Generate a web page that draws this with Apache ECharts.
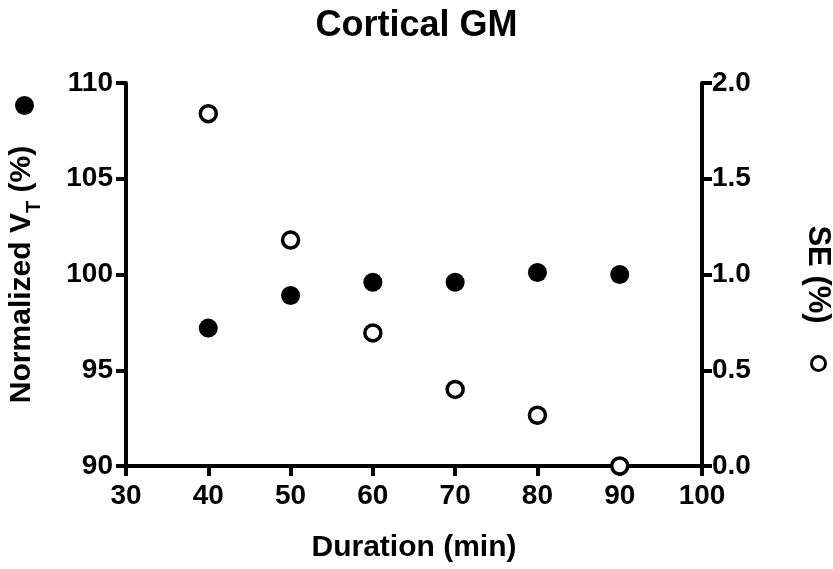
<!DOCTYPE html>
<html><head><meta charset="utf-8">
<script src="https://cdn.jsdelivr.net/npm/echarts@6/dist/echarts.min.js"></script>
<style>html,body{margin:0;padding:0;background:#fff}#c{width:833px;height:569px}</style>
</head><body><div id="c"></div>
<script>
const durations = [40, 50, 60, 70, 80, 90];
const normalizedVT = [97.2, 98.9, 99.6, 99.6, 100.1, 100.0];
const sePercent = [1.84, 1.18, 0.695, 0.40, 0.265, 0.0];
const xTicks = [30, 40, 50, 60, 70, 80, 90, 100];
const leftTicks = [90, 95, 100, 105, 110];
const rightTicks = [0.0, 0.5, 1.0, 1.5, 2.0];

const FF = '"Liberation Sans", Arial, Helvetica, sans-serif';
const chart = echarts.init(document.getElementById('c'), null, {renderer: 'canvas'});
const axisCommon = {
  axisLine: {show: true, lineStyle: {color: '#000', width: 4}},
  axisTick: {show: true, inside: false, length: 10, lineStyle: {color: '#000', width: 4}},
  splitLine: {show: false},
  axisLabel: {color: '#000', fontSize: 28, fontWeight: 'bold', fontFamily: FF, margin: 14}
};
chart.setOption({
  animation: false,
  backgroundColor: '#fff',
  title: {text: 'Cortical GM', left: 'center', top: 3,
    textStyle: {color: '#000', fontSize: 36, fontWeight: 'bold', fontFamily: FF}},
  grid: {left: 126, right: 131, top: 83, bottom: 103, containLabel: false, outerBoundsMode: 'none'},
  xAxis: Object.assign({}, axisCommon, {
    type: 'value', min: xTicks[0], max: xTicks[xTicks.length-1], interval: 10,
    name: 'Duration (min)', nameLocation: 'middle', nameGap: 67,
    nameTextStyle: {color: '#000', fontSize: 30, fontWeight: 'bold', fontFamily: FF},
    axisLabel: Object.assign({}, axisCommon.axisLabel, {margin: 16})
  }),
  yAxis: [
    Object.assign({}, axisCommon, {
      type: 'value', position: 'left', min: leftTicks[0], max: leftTicks[leftTicks.length-1], interval: 5,
      name: 'Normalized V{sub|T} (%)', nameLocation: 'middle', nameRotate: 90, nameGap: 82,
      nameTextStyle: {color: '#000', fontSize: 30, fontWeight: 'bold', fontFamily: FF,
        rich: {sub: {fontSize: 20, fontWeight: 'bold', fontFamily: FF, color: '#000', verticalAlign: 'bottom', lineHeight: 44}}},
      axisLabel: Object.assign({}, axisCommon.axisLabel, {margin: 13})
    }),
    Object.assign({}, axisCommon, {
      type: 'value', position: 'right', min: rightTicks[0], max: rightTicks[rightTicks.length-1], interval: 0.5,
      name: 'SE (%)', nameLocation: 'middle', nameRotate: -90, nameGap: 100,
      nameTextStyle: {color: '#000', fontSize: 31, fontWeight: 'bold', fontFamily: FF},
      axisLabel: Object.assign({}, axisCommon.axisLabel, {margin: 10, formatter: v => v.toFixed(1)})
    })
  ],
  graphic: [
    {type: 'circle', left: 15, top: 96, shape: {r: 9.5}, style: {fill: '#000'}},
    {type: 'circle', left: 810, top: 355, shape: {r: 7}, style: {fill: '#fff', stroke: '#000', lineWidth: 3}}
  ],
  series: [
    {type: 'scatter', yAxisIndex: 0, symbol: 'circle', symbolSize: 19, clip: false, z: 5,
     itemStyle: {color: '#000', opacity: 1},
     data: durations.map((d, i) => [d, normalizedVT[i]])},
    {type: 'scatter', yAxisIndex: 1, symbol: 'circle', symbolSize: 16, clip: false, z: 6,
     itemStyle: {color: '#fff', borderColor: '#000', borderWidth: 3.5, opacity: 1},
     data: durations.map((d, i) => [d, sePercent[i]])}
  ]
});
</script></body></html>
